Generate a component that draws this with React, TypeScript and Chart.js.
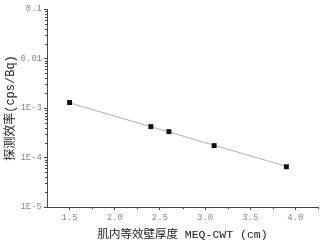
import React, { useEffect, useRef } from "react";
import { Chart, registerables } from "chart.js";

Chart.register(...registerables);

const thickness = [1.5, 2.4, 2.6, 3.1, 3.9];
const efficiency = [1.29e-3, 4.2e-4, 3.33e-4, 1.74e-4, 6.5e-5];
const fitX = [1.5, 3.9];
const fitY = [1.27e-3, 6.6e-5];
const xMajorTicks = [1.5, 2.0, 2.5, 3.0, 3.5, 4.0];
const xMinorTicks = [1.75, 2.25, 2.75, 3.25, 3.75, 4.25];
const yMajorTicks = [1e-5, 1e-4, 1e-3, 0.01, 0.1];
const yTickLabels = ["1E-5", "1E-4", "1E-3", "0.01", "0.1"];
const yTitle = "探测效率(cps/Bq)";
const xTitle = "肌内等效壁厚度 MEQ-CWT (cm)";

const FONT = "'Liberation Mono', 'Noto Sans CJK SC', monospace";
const AXIS = "#444";

const minorTickPlugin = {
  id: "minorTicks",
  afterDraw(chart: any) {
    const ctx = chart.ctx;
    const xs = chart.scales.x;
    const ys = chart.scales.y;
    ctx.save();
    ctx.strokeStyle = AXIS;
    ctx.lineWidth = 1;
    ctx.beginPath();
    for (const v of xMinorTicks) {
      const px = Math.round(xs.getPixelForValue(v)) + 0.5;
      ctx.moveTo(px, ys.bottom);
      ctx.lineTo(px, ys.bottom + 2);
    }
    for (let d = 0; d < yMajorTicks.length - 1; d++) {
      for (let k = 2; k <= 9; k++) {
        const v = yMajorTicks[d] * k;
        const py = Math.round(ys.getPixelForValue(v)) + 0.5;
        ctx.moveTo(xs.left - 2, py);
        ctx.lineTo(xs.left, py);
      }
    }
    ctx.stroke();
    ctx.restore();
  },
};

export default function App() {
  const ref = useRef<HTMLCanvasElement>(null);
  useEffect(() => {
    document.body.style.margin = "0";
    const chart = new Chart(ref.current!, {
      type: "scatter",
      data: {
        datasets: [
          {
            data: fitX.map((x, i) => ({ x, y: fitY[i] })),
            showLine: true,
            borderColor: "#b0b0b0",
            borderWidth: 1,
            pointRadius: 0,
            order: 2,
          },
          {
            data: thickness.map((x, i) => ({ x, y: efficiency[i] })),
            showLine: false,
            pointStyle: "rect",
            pointRadius: 3.5,
            backgroundColor: "#111",
            borderColor: "#111",
            borderWidth: 0,
            order: 1,
          },
        ],
      },
      options: {
        animation: false,
        responsive: false,
        layout: { padding: { top: 9, right: 10, left: 0, bottom: 0 } },
        plugins: { legend: { display: false }, tooltip: { enabled: false } },
        scales: {
          x: {
            type: "linear",
            min: 1.25,
            max: 4.25,
            afterBuildTicks: (s: any) => {
              s.ticks = xMajorTicks.map((v) => ({ value: v }));
            },
            afterFit: (s: any) => {
              s.height = 36;
            },
            ticks: {
              callback: (v: any) => Number(v).toFixed(1),
              font: { family: FONT, size: 9 },
              color: "#888",
              padding: 2,
              maxRotation: 0,
            },
            grid: { drawOnChartArea: false, drawTicks: true, tickLength: 3, color: AXIS },
            border: { display: true, color: AXIS, width: 1 },
            title: {
              display: true,
              text: xTitle,
              font: { family: FONT, size: 11.5 },
              color: "#222",
              padding: { top: 0, bottom: 1 },
            },
          },
          y: {
            type: "logarithmic",
            min: 1e-5,
            max: 0.1,
            afterBuildTicks: (s: any) => {
              s.ticks = yMajorTicks.map((v) => ({ value: v }));
            },
            afterFit: (s: any) => {
              s.width = 47;
            },
            ticks: {
              callback: (v: any) => {
                const i = yMajorTicks.findIndex((t) => Math.abs(t - v) / t < 1e-6);
                return i >= 0 ? yTickLabels[i] : "";
              },
              font: { family: FONT, size: 9 },
              color: "#888",
              padding: 2,
            },
            grid: { drawOnChartArea: false, drawTicks: true, tickLength: 3, color: AXIS },
            border: { display: true, color: AXIS, width: 1 },
            title: {
              display: true,
              text: yTitle,
              font: { family: FONT, size: 12 },
              color: "#222",
              padding: { top: 4, bottom: 0 },
            },
          },
        },
      },
      plugins: [minorTickPlugin],
    } as any);
    return () => chart.destroy();
  }, []);
  return (
    <div style={{ width: 328, height: 243, background: "#fff" }}>
      <canvas ref={ref} width={328} height={243} />
    </div>
  );
}
